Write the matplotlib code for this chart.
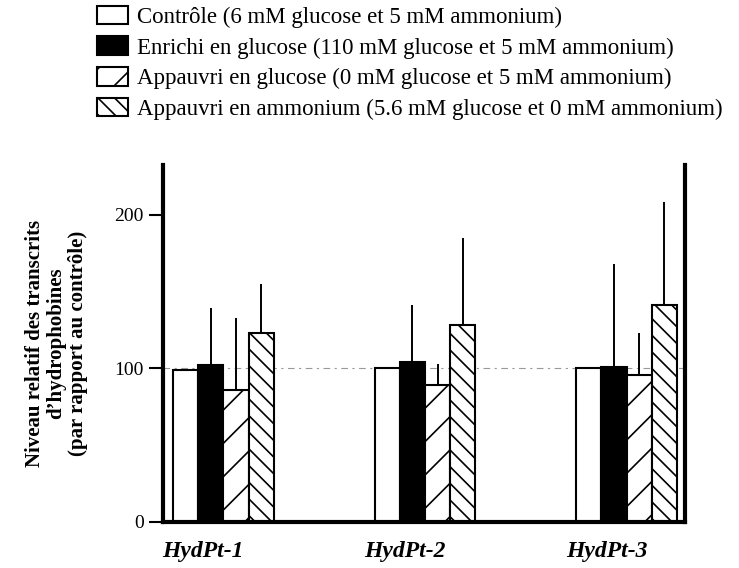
import matplotlib.pyplot as plt
import numpy as np

plt.rcParams['font.family'] = ['Liberation Serif', 'DejaVu Serif']
plt.rcParams['hatch.linewidth'] = 1.2

genes = ['HydPt-1', 'HydPt-2', 'HydPt-3']
labels = ['Contrôle (6 mM glucose et 5 mM ammonium)',
          'Enrichi en glucose (110 mM glucose et 5 mM ammonium)',
          'Appauvri en glucose (0 mM glucose et 5 mM ammonium)',
          'Appauvri en ammonium (5.6 mM glucose et 0 mM ammonium)']

# moyennes et barre d'erreur (vers le haut seulement)
controle = [99, 100, 100]
enrichi = [102.5, 104, 101]
appauvri_glc = [86, 89, 96]
appauvri_nh4 = [123, 128, 141.5]

err_controle = [0, 0, 0]
err_enrichi = [37, 37, 67]
err_appauvri_glc = [47, 14, 27]
err_appauvri_nh4 = [32, 57, 67]

values = [controle, enrichi, appauvri_glc, appauvri_nh4]
errors = [err_controle, err_enrichi, err_appauvri_glc, err_appauvri_nh4]
colors = ['white', 'black', 'white', 'white']
hatches = [None, None, '/', '\\\\']

fig = plt.figure(figsize=(7.39, 5.68), dpi=100)
ax = fig.add_axes([0.2206, 0.081, 0.7064, 0.6285])

x = np.arange(len(genes))
w = 0.125
for i in range(4):
    pos = x + (i - 1.5) * w
    ax.bar(pos, values[i], w, color=colors[i], edgecolor='black',
           linewidth=1.5, hatch=hatches[i], label=labels[i], zorder=2)
    e = np.array(errors[i])
    ax.errorbar(pos, values[i], yerr=[np.zeros(3), e], fmt='none',
                ecolor='black', elinewidth=1.4, capsize=0, zorder=3)

ax.axhline(100, color='#999999', lw=0.8, ls=(0, (6, 4, 2, 4)), zorder=1)

ax.set_xlim(-0.3, 2.29)
ax.set_ylim(0, 232.5)
ax.set_yticks([0, 100, 200])
ax.set_xticks(x - 0.1)
ax.set_xticklabels(genes, fontsize=17, fontstyle='italic', fontweight='bold')
ax.tick_params(axis='x', length=0, pad=14)
ax.tick_params(axis='y', length=10, width=1.5, labelsize=14, direction='out', pad=4)

for s in ['left', 'right', 'bottom']:
    ax.spines[s].set_linewidth(3)
ax.spines['top'].set_visible(False)

ax.set_ylabel('Niveau relatif des transcrits\nd\u2019hydrophobines\n(par rapport au contrôle)',
              fontsize=15, fontweight='bold', linespacing=1.1, labelpad=19)

fig.legend(loc='upper left', bbox_to_anchor=(0.131, 0.99), frameon=False,
           fontsize=16.5, handlelength=1.35, handleheight=0.85, handletextpad=0.4,
           labelspacing=0.38, borderaxespad=0, borderpad=0)

fig.savefig('out.png', dpi=100)
